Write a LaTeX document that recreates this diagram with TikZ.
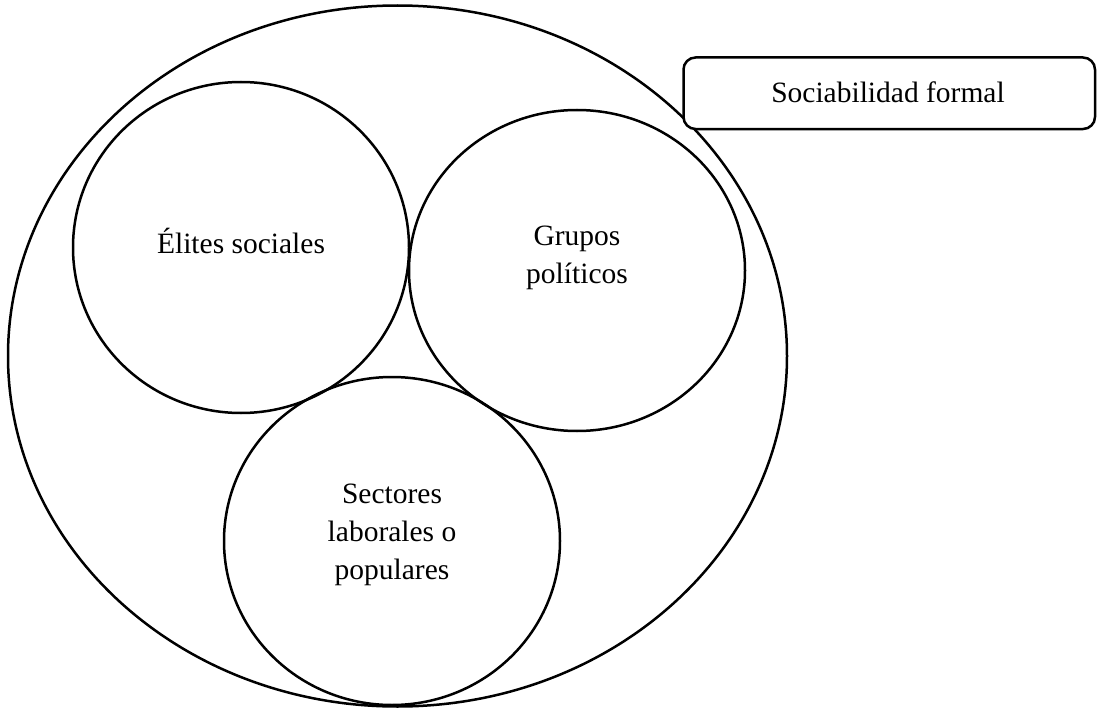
\documentclass[tikz,border=0pt]{standalone}
\usepackage{fontspec}
\setmainfont{Liberation Serif}
\begin{document}
\begin{tikzpicture}[x=1pt,y=-1pt,
  outline/.style={draw=black,line width=2.5pt},
  lbl/.style={font=\fontsize{29.5}{38}\selectfont,align=center,inner sep=0pt}]
\useasboundingbox (0,0) rectangle (1104,709);
\draw[outline] (397.5,356) ellipse [x radius=389.5, y radius=350.5];
\draw[outline] (241,247.5) ellipse [x radius=168, y radius=165.5];
\draw[outline] (577,270.5) ellipse [x radius=168, y radius=160.5];
\draw[outline] (392,541) ellipse [x radius=168, y radius=164];
\node[lbl] (elites) at (241,241) {Élites sociales};
\node[lbl] (grupos) at (577,258) {Grupos\\políticos};
\node[lbl] (sectores) at (392,535) {Sectores\\laborales o\\populares};
\draw[outline,fill=white,rounded corners=12pt] (683.5,57.5) rectangle (1095,129);
\node[lbl] (formal) at (888,92) {Sociabilidad formal};
\end{tikzpicture}
\end{document}
